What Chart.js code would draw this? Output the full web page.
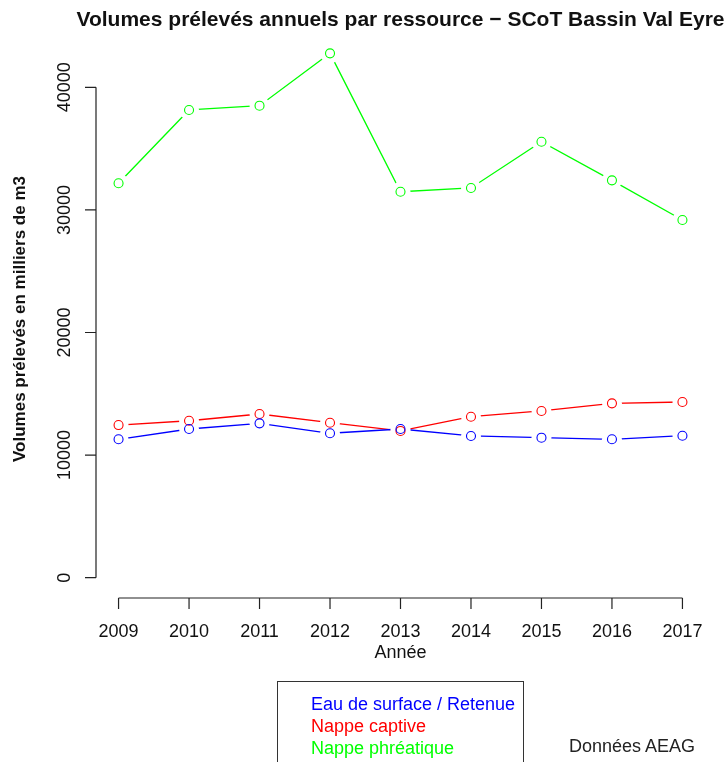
<!DOCTYPE html>
<html lang="fr">
<head>
    <meta charset="utf-8">
    <title>Volumes prélevés annuels par ressource</title>
    <script src="https://cdn.jsdelivr.net/npm/chart.js@4.4.1/dist/chart.umd.min.js"></script>
    <style>
        body { margin: 0; background: #fff; font-family: "Liberation Sans", Arial, sans-serif; }
        #wrap { position: relative; width: 728px; height: 762px; overflow: hidden; }
        #legend { position: absolute; left: 277px; top: 681px; width: 245px; height: 100px;
                  border: 1px solid #333; font-size: 18px; line-height: 22px; }
        #legend div { position: absolute; left: 33px; }
        #source { position: absolute; left: 569px; top: 736px; font-size: 18px; color: #222; }
    </style>
</head>
<body>
<div id="wrap">
    <canvas id="chart" width="728" height="762"></canvas>
    <div id="legend">
        <div style="top:11px;color:#0000ff">Eau de surface / Retenue</div>
        <div style="top:33px;color:#ff0000">Nappe captive</div>
        <div style="top:55px;color:#00ff00">Nappe phréatique</div>
    </div>
    <div id="source">Données AEAG</div>
</div>
<script>
    // valeurs (milliers de m3)
    const annees = [2009, 2010, 2011, 2012, 2013, 2014, 2015, 2016, 2017];
    const surface = [11290, 12130, 12590, 11780, 12130, 11560, 11420, 11290, 11580];
    const captive = [12450, 12800, 13350, 12640, 11970, 13130, 13600, 14220, 14330];
    const phreatique = [32170, 38150, 38500, 42770, 31480, 31790, 35560, 32410, 29180];
    const yTicks = [0, 10000, 20000, 30000, 40000];

    const FONT = '"Liberation Sans", Arial, sans-serif';

    function pts(vals) {
        return annees.map((a, i) => ({x: a, y: vals[i]}));
    }

    const series = [
        {vals: surface, col: '#0000ff'},
        {vals: captive, col: '#ff0000'},
        {vals: phreatique, col: '#00ff00'}
    ];

    const datasets = [];
    series.forEach(s => {
        // ligne
        datasets.push({data: pts(s.vals), borderColor: s.col, borderWidth: 1.3,
            pointRadius: 0, order: 3});
        // espace blanc autour des points (type "b")
        datasets.push({data: pts(s.vals), showLine: false, pointRadius: 10,
            pointBackgroundColor: '#fff', pointBorderWidth: 0, pointBorderColor: '#fff', order: 2});
        // cercles
        datasets.push({data: pts(s.vals), showLine: false, pointRadius: 4.5,
            pointBackgroundColor: 'rgba(0,0,0,0)', pointBorderColor: s.col, pointBorderWidth: 1.1, order: 1});
    });

    const axesR = {
        id: 'axesR',
        afterDraw(chart) {
            const ctx = chart.ctx;
            const xs = chart.scales.x, ys = chart.scales.y;
            const area = chart.chartArea;
            ctx.save();
            ctx.strokeStyle = '#222';
            ctx.fillStyle = '#111';
            ctx.lineWidth = 1.2;

            // axe y
            const x0 = area.left;
            ctx.beginPath();
            ctx.moveTo(x0, ys.getPixelForValue(yTicks[0]));
            ctx.lineTo(x0, ys.getPixelForValue(yTicks[yTicks.length - 1]));
            yTicks.forEach(v => {
                const p = ys.getPixelForValue(v);
                ctx.moveTo(x0 - 11, p);
                ctx.lineTo(x0, p);
            });
            ctx.stroke();
            ctx.font = '18px ' + FONT;
            ctx.textAlign = 'center';
            ctx.textBaseline = 'middle';
            yTicks.forEach(v => {
                ctx.save();
                ctx.translate(64, ys.getPixelForValue(v));
                ctx.rotate(-Math.PI / 2);
                ctx.fillText(String(v), 0, 1);
                ctx.restore();
            });

            // axe x
            const y0 = area.bottom;
            ctx.beginPath();
            ctx.moveTo(xs.getPixelForValue(annees[0]), y0);
            ctx.lineTo(xs.getPixelForValue(annees[annees.length - 1]), y0);
            annees.forEach(a => {
                const p = xs.getPixelForValue(a);
                ctx.moveTo(p, y0);
                ctx.lineTo(p, y0 + 11);
            });
            ctx.stroke();
            annees.forEach(a => {
                ctx.fillText(String(a), xs.getPixelForValue(a), 632);
            });
            ctx.fillText('Année', (area.left + area.right) / 2, 653);

            // titres
            ctx.font = 'bold 21px ' + FONT;
            ctx.fillText('Volumes prélevés annuels par ressource \u2212 SCoT Bassin Val Eyre',
                (area.left + area.right) / 2, 20);
            ctx.font = 'bold 17px ' + FONT;
            ctx.save();
            ctx.translate(20, (area.top + area.bottom) / 2 + 4);
            ctx.rotate(-Math.PI / 2);
            ctx.fillText('Volumes prélevés en milliers de m3', 0, 0);
            ctx.restore();
            ctx.restore();
        }
    };

    new Chart(document.getElementById('chart'), {
        type: 'line',
        data: {datasets: datasets},
        options: {
            responsive: false,
            animation: false,
            layout: {padding: {left: 0, right: 23, top: 32, bottom: 0}},
            plugins: {legend: {display: false}, title: {display: false}, tooltip: {enabled: false}},
            scales: {
                x: {type: 'linear', min: 2008.68, max: 2017.32,
                    ticks: {display: false}, grid: {display: false}, border: {display: false},
                    afterFit(s) { s.height = 164; }},
                y: {type: 'linear', min: -1656, max: 44510,
                    ticks: {display: false}, grid: {display: false}, border: {display: false},
                    afterFit(s) { s.width = 96; }}
            }
        },
        plugins: [axesR]
    });
</script>
</body>
</html>
